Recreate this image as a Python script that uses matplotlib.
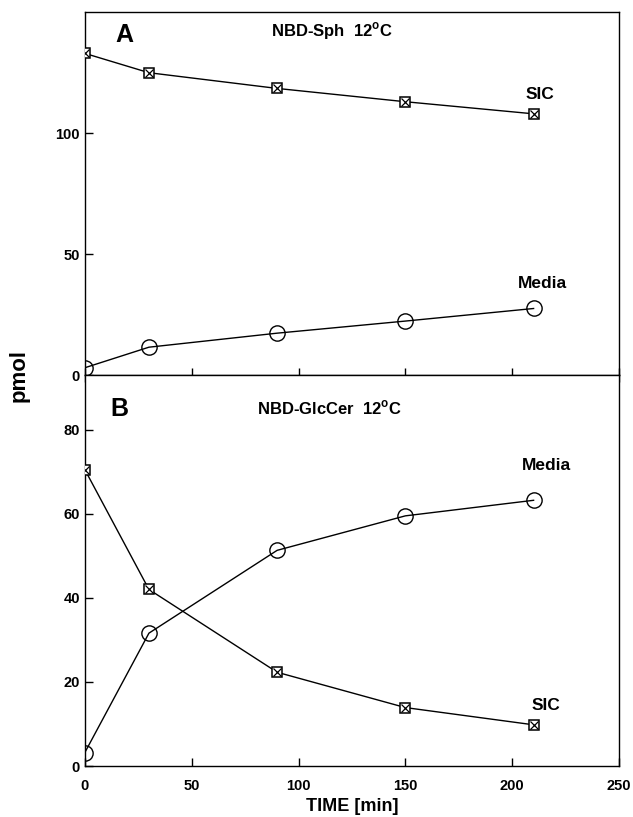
import matplotlib
matplotlib.use("Agg")
import matplotlib.pyplot as plt
import numpy as np

plt.rcParams['font.family'] = ['Liberation Sans', 'DejaVu Sans']
plt.rcParams['font.weight'] = 'bold'

# time points (min)
time = [0, 30, 90, 150, 210]

# panel A: NBD-Sph at 12 C
sph_sic = [133, 125, 118.5, 113, 108]
sph_media = [3, 11.5, 17.3, 22.3, 27.5]

# panel B: NBD-GlcCer at 12 C
glc_sic = [70.5, 42, 22.3, 13.9, 9.8]
glc_media = [3.2, 31.6, 51.3, 59.5, 63.2]

xticks = [0, 50, 100, 150, 200, 250]


def sic_line(ax, x, y):
    # crossed box marker: square with an x on top
    ax.plot(x, y, color='black', lw=1.0, marker='s', ms=7, mfc='white',
            mec='black', mew=1.1, zorder=3)
    ax.plot(x, y, ls='none', marker='x', ms=5.5, mec='black', mew=0.9, zorder=4)


def media_line(ax, x, y):
    ax.plot(x, y, color='black', lw=1.0, marker='o', ms=11, mfc='none',
            mec='black', mew=1.0, zorder=3)


fig = plt.figure(figsize=(6.33, 8.17), dpi=100)
ax1 = fig.add_axes([0.134, 0.541, 0.844, 0.444])
ax2 = fig.add_axes([0.134, 0.0624, 0.844, 0.4786])

for ax in (ax1, ax2):
    ax.set_xlim(0, 250)
    ax.set_xticks(xticks)
    for s in ax.spines.values():
        s.set_linewidth(1.0)
    ax.tick_params(axis='both', direction='in', length=6, width=1.0,
                   labelsize=10.5)
    ax.tick_params(axis='x', pad=9)

# --- panel A
sic_line(ax1, time, sph_sic)
media_line(ax1, time, sph_media)
ax1.set_ylim(0, 150)
ax1.set_yticks([0, 50, 100])
ax1.tick_params(axis='x', direction='inout', length=10, labelbottom=False)
ax1.text(18.5, 140.5, 'A', fontsize=18, fontweight='bold', ha='center', va='center')
ax1.text(115.5, 142, r'NBD-Sph  12$^\mathregular{o}$C', fontsize=12,
         fontweight='bold', ha='center', va='center')
ax1.text(213, 116, 'SIC', fontsize=12.5, fontweight='bold', ha='center', va='center')
ax1.text(214, 38, 'Media', fontsize=12.5, fontweight='bold', ha='center', va='center')

# --- panel B
sic_line(ax2, time, glc_sic)
media_line(ax2, time, glc_media)
ax2.set_ylim(0, 93)
ax2.set_yticks([0, 20, 40, 60, 80])
ax2.text(16.4, 84.8, 'B', fontsize=18, fontweight='bold', ha='center', va='center')
ax2.text(114.7, 85.2, r'NBD-GlcCer  12$^\mathregular{o}$C', fontsize=12,
         fontweight='bold', ha='center', va='center')
ax2.text(216, 71.4, 'Media', fontsize=12.5, fontweight='bold', ha='center', va='center')
ax2.text(216, 14.5, 'SIC', fontsize=12.5, fontweight='bold', ha='center', va='center')
ax2.set_xlabel('TIME [min]', fontsize=13, fontweight='bold', labelpad=4)
for lab in ax2.get_xticklabels() + ax2.get_yticklabels() + ax1.get_yticklabels():
    lab.set_fontweight('bold')

fig.text(0.03, 0.541, 'pmol', rotation=90, fontsize=16, fontweight='bold',
         ha='center', va='center')

fig.savefig('out.png', dpi=100)
